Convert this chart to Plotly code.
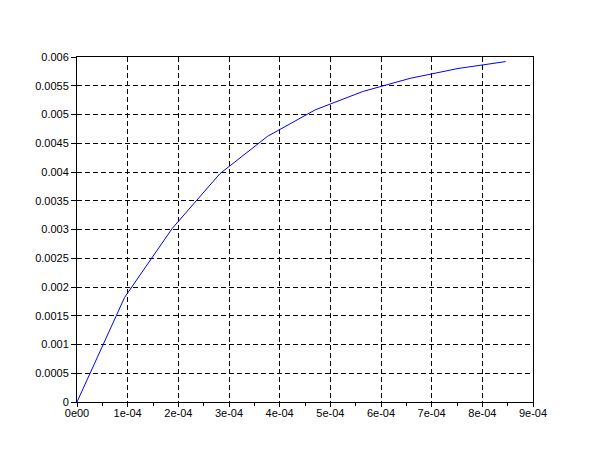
import plotly.graph_objects as go

# Data
x_vals = [0.0, 0.94e-4, 1.88e-4, 2.82e-4, 3.76e-4, 4.70e-4, 5.64e-4, 6.58e-4, 7.52e-4, 8.46e-4]
y_vals = [0.0, 0.00182, 0.00302, 0.00397, 0.00462, 0.00508, 0.00540, 0.00563, 0.00580, 0.00592]

x_tickvals = [0, 1e-4, 2e-4, 3e-4, 4e-4, 5e-4, 6e-4, 7e-4, 8e-4, 9e-4]
x_ticktext = ["0e00", "1e-04", "2e-04", "3e-04", "4e-04", "5e-04", "6e-04", "7e-04", "8e-04", "9e-04"]
x_minor = [0.5e-4, 1.5e-4, 2.5e-4, 3.5e-4, 4.5e-4, 5.5e-4, 6.5e-4, 7.5e-4, 8.5e-4]
y_tickvals = [0, 0.0005, 0.001, 0.0015, 0.002, 0.0025, 0.003, 0.0035, 0.004, 0.0045, 0.005, 0.0055, 0.006]
y_ticktext = ["0", "0.0005", "0.001", "0.0015", "0.002", "0.0025", "0.003", "0.0035",
              "0.004", "0.0045", "0.005", "0.0055", "0.006"]

fig = go.Figure()
fig.add_trace(go.Scatter(x=x_vals, y=y_vals, mode="lines",
                         line=dict(color="#0000ff", width=1), showlegend=False,
                         hoverinfo="skip"))

font = dict(family="Liberation Sans, Arial, sans-serif", size=11, color="black")

fig.update_layout(
    width=610, height=460,
    margin=dict(l=77, r=77, t=57, b=58, pad=0),
    paper_bgcolor="white", plot_bgcolor="white",
    font=font,
    xaxis=dict(
        range=[0, 9e-4], tickmode="array", tickvals=x_tickvals, ticktext=x_ticktext,
        showline=True, linecolor="black", linewidth=1, mirror=True,
        ticks="outside", ticklen=4, tickcolor="black", tickwidth=1,
        showgrid=True, gridcolor="black", griddash="5px,3px", gridwidth=1,
        zeroline=False, tickfont=font, ticklabelstandoff=-3,
        minor=dict(tickmode="array", tickvals=x_minor, ticks="outside", ticklen=3,
                   tickcolor="black", showgrid=False),
    ),
    yaxis=dict(
        range=[0, 0.006], tickmode="array", tickvals=y_tickvals, ticktext=y_ticktext,
        showline=True, linecolor="black", linewidth=1, mirror=True,
        ticks="outside", ticklen=5, tickcolor="black", tickwidth=1,
        showgrid=True, gridcolor="black", griddash="5px,3px", gridwidth=1,
        zeroline=False, tickfont=font,
    ),
)

fig.write_html("out.html", config={"displayModeBar": False},
               post_script="document.body.style.margin='0';")
